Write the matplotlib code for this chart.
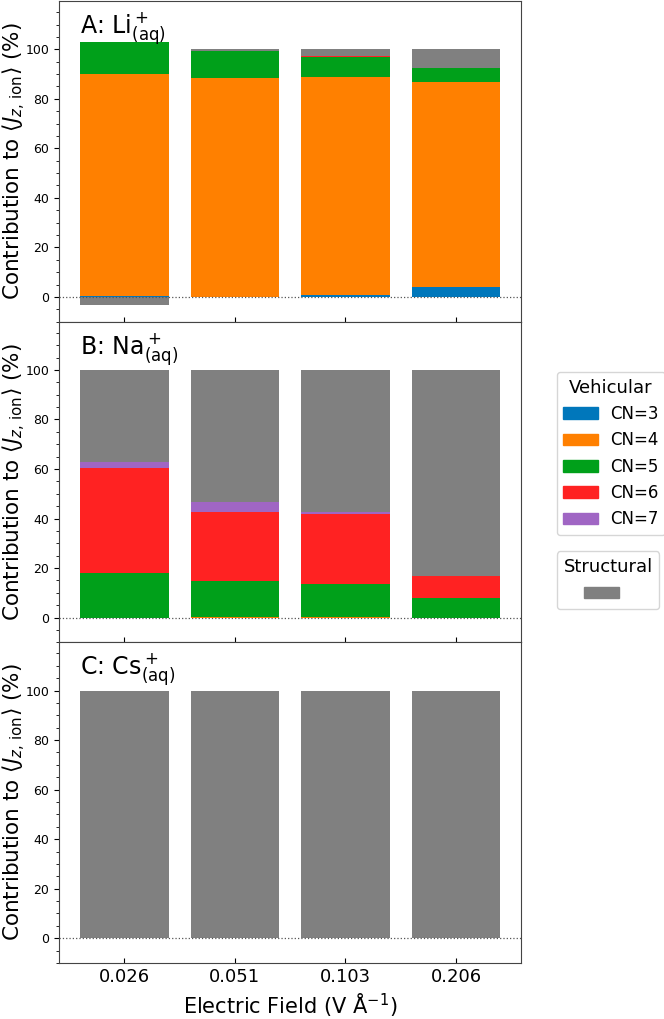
import matplotlib.pyplot as plt
import matplotlib.patches as mpatches
from matplotlib.ticker import MultipleLocator
import numpy as np

fields = ['0.026', '0.051', '0.103', '0.206']
cn_labels = ['CN=3', 'CN=4', 'CN=5', 'CN=6', 'CN=7']
colors = ['#0077bb', '#ff8000', '#00a01a', '#ff2222', '#a066c4']
struct_color = '#808080'

panel_titles = [r'A: Li$^+_{\rm (aq)}$', r'B: Na$^+_{\rm (aq)}$', r'C: Cs$^+_{\rm (aq)}$']

# vehicular contributions per CN (rows CN=3..7), structural separately
li_cn = [[0.5, 0.0, 0.6, 4.0],
         [89.5, 88.4, 88.4, 82.9],
         [13.1, 10.8, 8.0, 5.7],
         [0.0, 0.0, 0.4, 0.0],
         [0.0, 0.0, 0.0, 0.0]]
li_struct = [-3.1, 0.8, 2.6, 7.4]

na_cn = [[0.0, 0.0, 0.0, 0.0],
         [0.0, 0.3, 0.4, 0.0],
         [17.8, 14.3, 13.1, 8.0],
         [42.8, 27.9, 28.3, 8.6],
         [2.1, 4.1, 0.7, 0.2]]
na_struct = [37.3, 53.4, 57.5, 83.2]

cs_cn = [[0.0, 0.0, 0.0, 0.0],
         [0.0, 0.0, 0.0, 0.0],
         [0.0, 0.0, 0.0, 0.0],
         [0.0, 0.0, 0.0, 0.0],
         [0.0, 0.0, 0.0, 0.0]]
cs_struct = [100.0, 100.0, 100.0, 100.0]

all_cn = [li_cn, na_cn, cs_cn]
all_struct = [li_struct, na_struct, cs_struct]

fig, axes = plt.subplots(3, 1, sharex=True, figsize=(6.64, 10.19), dpi=100)
fig.subplots_adjust(left=0.089, right=0.785, top=0.999, bottom=0.055, hspace=0)

x = np.arange(len(fields))
for ax, cn, struct, title in zip(axes, all_cn, all_struct, panel_titles):
    pos = np.zeros(len(fields))
    neg = np.zeros(len(fields))
    series = [np.array(c) for c in cn] + [np.array(struct)]
    cols = colors + [struct_color]
    for vals, c in zip(series, cols):
        bottom = np.where(vals >= 0, pos, neg)
        ax.bar(x, vals, 0.8, bottom=bottom, color=c, linewidth=0)
        pos = pos + np.where(vals >= 0, vals, 0)
        neg = neg + np.where(vals < 0, vals, 0)
    ax.axhline(0, color='#555555', ls=':', lw=0.9)
    ax.set_ylim(-10, 119.5)
    ax.yaxis.set_major_locator(MultipleLocator(20))
    ax.yaxis.set_minor_locator(MultipleLocator(5))
    ax.tick_params(axis='y', labelsize=9)
    ax.tick_params(axis='x', direction='in', labelsize=13)
    ax.set_ylabel(r'Contribution to $\langle J_{z,\,\mathrm{ion}}\rangle$ (%)', fontsize=15.5)
    ax.yaxis.set_label_coords(-0.068, 0.5)
    ax.text(0.045, 0.97, title, transform=ax.transAxes, fontsize=17, va='top', ha='left')
    for s in ax.spines.values():
        s.set_color('#444444')

axes[-1].set_xticks(x)
axes[-1].set_xticklabels(fields)
axes[-1].set_xlabel(r'Electric Field (V $\mathrm{\AA}^{-1}$)', fontsize=15)

veh_handles = [mpatches.Patch(color=c, label=l) for c, l in zip(colors, cn_labels)]
fig.legend(handles=veh_handles, title='Vehicular', loc='upper left',
           bbox_to_anchor=(0.826, 0.643), fontsize=12, title_fontsize=13,
           handlelength=2.1, handletextpad=0.7)
fig.legend(handles=[mpatches.Patch(color=struct_color, label='')], title='Structural',
           loc='upper left', bbox_to_anchor=(0.826, 0.467), fontsize=12, title_fontsize=13,
           handlelength=2.1)

fig.savefig('out.png', dpi=100)
